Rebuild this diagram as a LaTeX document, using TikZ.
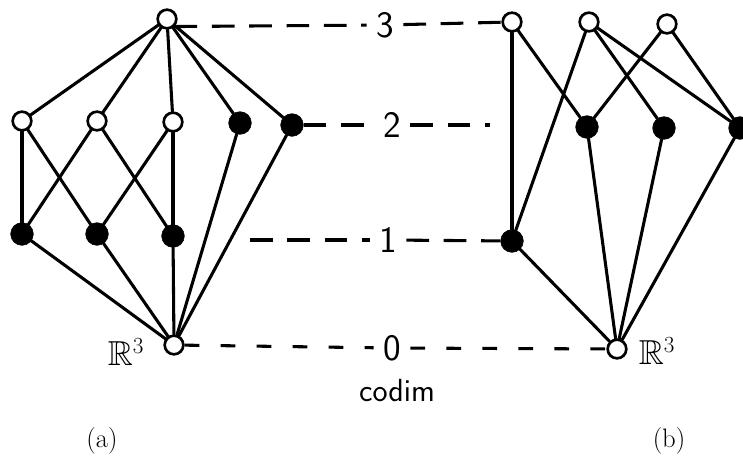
\documentclass[tikz,border=0pt]{standalone}
\usepackage{amssymb}
\usetikzlibrary{positioning}
\begin{document}
\begin{tikzpicture}[
    x=0.75pt,y=-0.75pt,
    opn/.style={
      draw,
      circle,
      fill=white,
      line width=2pt,
      inner sep=0pt,
      minimum size=14pt
    },
    ful/.style={
      draw,
      circle,
      fill=black,
      inner sep=0pt,
      minimum size=17pt
    },
    ln/.style={line width=2.3pt,line cap=round},
    lvl/.style={line width=2.3pt,dash pattern=on 17pt off 11pt},
    lev/.style={font=\sffamily\fontsize{28}{32}\selectfont,inner sep=7pt},
    rlab/.style={font=\fontsize{26}{30}\selectfont}
    ]
    \useasboundingbox (0,0) rectangle (743,458);
    % (a)
    \node[opn] (atop) at (167,19) {};
    \node[opn] (au1) at (22,121) {};
    \node[opn] (au2) at (97,121) {};
    \node[opn] (au3) at (173,122) {};
    \node[ful] (af1) at (240,123) {};
    \node[ful] (af2) at (292,125) {};
    \node[ful] (al1) at (22,234) {};
    \node[ful] (al2) at (97,234) {};
    \node[ful] (al3) at (173,236) {};
    \node[opn] (abot) at (174,345) {};
    \node[rlab] (ra) at (126,352) {$\mathbb{R}^3$};

    \draw[ln] (atop) -- (au1);
    \draw[ln] (atop) -- (au2);
    \draw[ln] (atop) -- (au3);
    \draw[ln] (atop) -- (af1);
    \draw[ln] (atop) -- (af2);
    \draw[ln] (au1) -- (al1);
    \draw[ln] (au1) -- (al2);
    \draw[ln] (au2) -- (al1);
    \draw[ln] (au2) -- (al3);
    \draw[ln] (au3) -- (al2);
    \draw[ln] (au3) -- (al3);
    \draw[ln] (al1) -- (abot);
    \draw[ln] (al2) -- (abot);
    \draw[ln] (al3) -- (abot);
    \draw[ln] (af1) -- (abot);
    \draw[ln] (af2) -- (abot);

    % (b)
    \node[opn] (bt1) at (512,22) {};
    \node[opn] (bt2) at (589,22) {};
    \node[opn] (bt3) at (667,24) {};
    \node[ful] (bm1) at (587,127) {};
    \node[ful] (bm2) at (664,128) {};
    \node[ful] (bm3) at (740,128) {};
    \node[ful] (bl) at (512,241) {};
    \node[opn] (bbot) at (617,349) {};
    \node[rlab] (rb) at (657,351) {$\mathbb{R}^3$};

    \draw[ln] (bt1) -- (bl);
    \draw[ln] (bt1) -- (bm1);
    \draw[ln] (bt2) -- (bl);
    \draw[ln] (bt2) -- (bm2);
    \draw[ln] (bt2) -- (bm3);
    \draw[ln] (bt3) -- (bm1);
    \draw[ln] (bt3) -- (bm3);
    \draw[ln] (bl) -- (bbot);
    \draw[ln] (bm1) -- (bbot);
    \draw[ln] (bm2) -- (bbot);
    \draw[ln] (bm3) -- (bbot);

    % codim levels
    \node[lev] (l3) at (385,25) {\raisebox{-5pt}{3}};
    \node[lev] (l2) at (392,125) {2};
    \node[lev] (l1) at (388,240) {1};
    \node[lev] (l0) at (392,348) {\raisebox{-4pt}{0}};
    \coordinate (e2) at (490,125);
    \coordinate (s1) at (250,240);

    \draw[lvl] (atop.south east) -- (l3);
    \draw[lvl] (l3) -- (bt1);
    \draw[lvl] (af2) -- (l2);
    \draw[lvl] (l2) -- (e2);
    \draw[lvl] (s1) -- (l1);
    \draw[lvl] (l1) -- (bl);
    \draw[lvl,dash pattern=on 11pt off 16pt] (abot) -- (l0);
    \draw[lvl,dash pattern=on 11pt off 16pt] (l0) -- (bbot);

    \node[font=\sffamily\fontsize{24}{28}\selectfont] (cd) at (397,391) {codim};
    \node[font=\fontsize{20}{24}\selectfont] (la) at (102,441) {(a)};
    \node[font=\fontsize{20}{24}\selectfont] (lb) at (669,441) {(b)};
\end{tikzpicture}
\end{document}
